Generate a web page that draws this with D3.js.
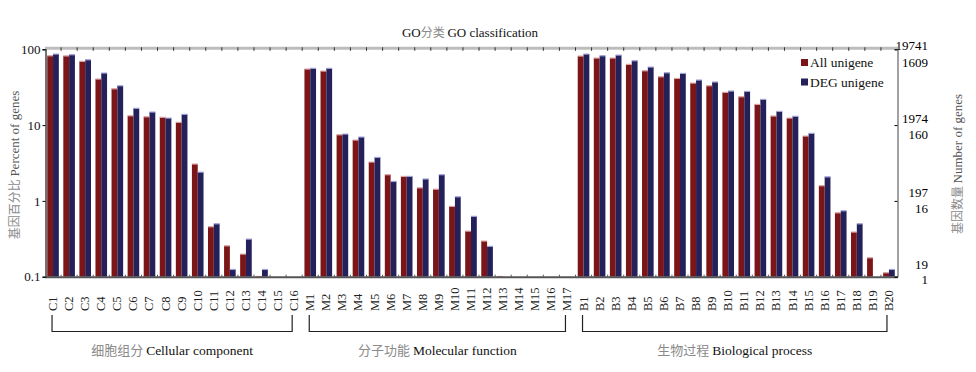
<!doctype html>
<html>
<head>
<meta charset="utf-8">
<title>GO classification</title>
<script src="https://cdn.jsdelivr.net/npm/d3@7"></script>
<style>
  body { margin: 0; background: #fff; }
  text { font-family: "Liberation Serif", "Times New Roman", "Noto Sans CJK SC", serif; }
  .zh { fill: #8a8a8a; font-family: "Noto Sans CJK SC", sans-serif; }
</style>
</head>
<body>
<script>

// categories along the x axis
var categories = [
  "C1","C2","C3","C4","C5","C6","C7","C8","C9","C10","C11","C12","C13","C14","C15","C16",
  "M1","M2","M3","M4","M5","M6","M7","M8","M9","M10","M11","M12","M13","M14","M15","M16","M17",
  "B1","B2","B3","B4","B5","B6","B7","B8","B9","B10","B11","B12","B13","B14","B15","B16","B17","B18","B19","B20"
];

// percent of genes, All unigene
var allValues = [
  82.4, 82, 69.5, 40.6, 30.2, 13.3, 12.9, 12.7, 10.9, 3.07, 0.457, 0.256, 0.199, 0.101, 0, 0,
  55, 51.7, 7.47, 6.36, 3.26, 2.22, 2.11, 1.49, 1.43, 0.849, 0.4, 0.296, 0.101, 0, 0, 0, 0,
  81.6, 76.8, 76.8, 63.4, 52.2, 43.5, 41.4, 35.9, 33.1, 27.1, 23.7, 18.8, 13.2, 12.4, 7.18, 1.59, 0.698, 0.389, 0.178, 0.113
];

// percent of genes, DEG unigene
var degValues = [
  86.7, 85, 72.9, 48.7, 33.1, 16.7, 14.9, 12.4, 13.9, 2.4, 0.5, 0.125, 0.314, 0.125, 0, 0,
  56.2, 56.2, 7.63, 6.97, 3.76, 1.81, 2.11, 1.95, 2.22, 1.135, 0.627, 0.252, 0, 0, 0, 0, 0,
  86.7, 82.4, 84, 70.8, 58.4, 49.1, 48.2, 39.4, 37.1, 28.2, 27.9, 21.9, 15.2, 13.1, 7.8, 2.08, 0.742, 0.5, 0, 0.125
];

var seriesNames = ["All unigene", "DEG unigene"];
var seriesColors = ["#7c1518", "#23205a"];
var seriesTops = ["#dba3a3", "#a3a3d8"];

var leftTicks = [0.1, 1, 10, 100];
var rightUpper = ["19", "197", "1974", "19741"];
var rightLower = ["1", "16", "160", "1609"];

var groupZh = ["细胞组分", "分子功能", "生物过程"];
var groupEn = ["Cellular component", "Molecular function", "Biological process"];
var groupFirst = ["C1", "M1", "B1"];
var groupLast = ["C16", "M17", "B20"];

var width = 976, height = 372;
var plotLeft = 45, plotRight = 897, plotTop = 49.3, plotBottom = 276.7;

// vertical nudges of the right-hand number labels (px from tick)
var upperShift = [-12, -8, -7, -4];
var lowerShift = [3, 8, 9, 13];

var svg = d3.select("body").append("svg")
    .attr("width", width)
    .attr("height", height);

var x = d3.scaleBand()
    .domain(categories)
    .range([plotLeft, plotRight]);

var xInner = d3.scaleBand()
    .domain([0, 1])
    .range([x.bandwidth() / 2 - 5.8, x.bandwidth() / 2 + 5.8]);

var y = d3.scaleLog()
    .domain([0.1, 100])
    .range([plotBottom, plotTop]);

// bars
var rows = [];
categories.forEach(function(c, i) {
    rows.push({ cat: c, s: 0, v: allValues[i] });
    rows.push({ cat: c, s: 1, v: degValues[i] });
});
rows = rows.filter(function(d) { return d.v > 0; });

var bars = svg.append("g");
bars.selectAll("rect.bar")
    .data(rows)
    .enter()
    .append("rect")
    .attr("class", "bar")
    .attr("x", function(d) { return x(d.cat) + xInner(d.s); })
    .attr("width", xInner.bandwidth())
    .attr("y", function(d) { return y(d.v); })
    .attr("height", function(d) { return Math.max(1, plotBottom - y(d.v)); })
    .attr("fill", function(d) { return seriesColors[d.s]; });

bars.selectAll("rect.top")
    .data(rows)
    .enter()
    .append("rect")
    .attr("class", "top")
    .attr("x", function(d) { return x(d.cat) + xInner(d.s); })
    .attr("width", xInner.bandwidth())
    .attr("y", function(d) { return y(d.v) - 0.5; })
    .attr("height", 1.2)
    .attr("fill", function(d) { return seriesTops[d.s]; });

// frame: top gray bar with ticks, bottom axis, right border
var bounds = categories.map(function(c) { return x(c); }).concat([plotRight]);

svg.append("line")
    .attr("x1", plotLeft).attr("x2", plotRight + 1)
    .attr("y1", plotTop - 1).attr("y2", plotTop - 1)
    .attr("stroke", "#bdbdbd").attr("stroke-width", 3);

svg.append("g").selectAll("line")
    .data(bounds.slice(1, -1))
    .enter().append("line")
    .attr("x1", function(d) { return d; }).attr("x2", function(d) { return d; })
    .attr("y1", plotTop - 2).attr("y2", plotTop + 1.5)
    .attr("stroke", "#333").attr("stroke-width", 1);

svg.append("line")
    .attr("x1", plotLeft).attr("x2", plotRight + 1)
    .attr("y1", plotBottom + 0.5).attr("y2", plotBottom + 0.5)
    .attr("stroke", "#555").attr("stroke-width", 2);

svg.append("g").selectAll("line")
    .data(bounds.slice(1, -1))
    .enter().append("line")
    .attr("x1", function(d) { return d; }).attr("x2", function(d) { return d; })
    .attr("y1", plotBottom - 2).attr("y2", plotBottom)
    .attr("stroke", "#555").attr("stroke-width", 1);

// left axis
var leftAxis = svg.append("g")
    .attr("transform", "translate(" + (plotLeft + 0.5) + ",0)")
    .call(d3.axisLeft(y).tickValues(leftTicks).tickFormat(d3.format("")).tickSize(3).tickPadding(2));
leftAxis.select(".domain").attr("stroke", "#444").attr("stroke-width", 1.5);
leftAxis.selectAll("text").attr("font-size", 13).attr("fill", "#111")
    .style("font-family", "'Liberation Serif', serif");

// right axis
var rightAxis = svg.append("g")
    .attr("transform", "translate(" + (plotRight + 0.5) + ",0)")
    .call(d3.axisRight(y).tickValues(leftTicks).tickFormat("").tickSize(-3));
rightAxis.select(".domain").attr("stroke", "#444");

svg.append("g").selectAll("text")
    .data(leftTicks)
    .enter().append("text")
    .attr("x", 928)
    .attr("y", function(d, i) { return y(d) + upperShift[i]; })
    .attr("dy", "0.35em")
    .attr("text-anchor", "end")
    .attr("font-size", 13)
    .text(function(d, i) { return rightUpper[i]; });

svg.append("g").selectAll("text")
    .data(leftTicks)
    .enter().append("text")
    .attr("x", 928)
    .attr("y", function(d, i) { return y(d) + lowerShift[i]; })
    .attr("dy", "0.35em")
    .attr("text-anchor", "end")
    .attr("font-size", 13)
    .text(function(d, i) { return rightLower[i]; });

// axis titles
var yl = svg.append("text")
    .attr("transform", "translate(19,165) rotate(-90)")
    .attr("text-anchor", "middle")
    .attr("font-size", 13)
    .attr("fill", "#555");
yl.append("tspan").attr("class", "zh").attr("font-size", 12).text("基因百分比 ");
yl.append("tspan").text("Percent of genes");

var yr = svg.append("text")
    .attr("transform", "translate(962,164) rotate(-90)")
    .attr("text-anchor", "middle")
    .attr("font-size", 13)
    .attr("fill", "#555");
yr.append("tspan").attr("class", "zh").attr("font-size", 12).text("基因数量 ");
yr.append("tspan").text("Number of genes");

// title
var title = svg.append("text")
    .attr("x", 470).attr("y", 37)
    .attr("text-anchor", "middle")
    .attr("font-size", 13)
    .attr("fill", "#111");
title.append("tspan").text("GO");
title.append("tspan").attr("class", "zh").attr("font-size", 12).text("分类 ");
title.append("tspan").text("GO classification");

// category labels
svg.append("g").selectAll("text")
    .data(categories)
    .enter().append("text")
    .attr("transform", function(d) {
        return "translate(" + (x(d) + x.bandwidth() / 2 + 4) + ",311) rotate(-90)";
    })
    .attr("text-anchor", "start")
    .attr("font-size", 12.5)
    .attr("fill", "#222")
    .text(function(d) { return d; });

// group brackets
var cx = function(c) { return x(c) + x.bandwidth() / 2; };
var brackets = svg.append("g");
groupEn.forEach(function(g, i) {
    var x0 = cx(groupFirst[i]) - 1, x1 = cx(groupLast[i]) - 2;
    brackets.append("path")
        .attr("d", "M" + x0 + ",315V331.5H" + x1 + "V315")
        .attr("fill", "none")
        .attr("stroke", "#222")
        .attr("stroke-width", 1.2);
    var t = brackets.append("text")
        .attr("x", (x0 + x1) / 2).attr("y", 355)
        .attr("text-anchor", "middle")
        .attr("font-size", 13.5)
        .attr("fill", "#111");
    t.append("tspan").attr("class", "zh").attr("font-size", 13).text(groupZh[i] + " ");
    t.append("tspan").text(g);
});

// legend
var legend = svg.append("g");
seriesNames.forEach(function(name, i) {
    legend.append("rect")
        .attr("x", 801).attr("y", 59 + i * 19.5)
        .attr("width", 7).attr("height", 7)
        .attr("fill", seriesColors[i]);
    legend.append("text")
        .attr("x", 810).attr("y", 67 + i * 19.5)
        .attr("font-size", 13.5)
        .attr("fill", "#111")
        .text(name);
});

</script>
</body>
</html>
